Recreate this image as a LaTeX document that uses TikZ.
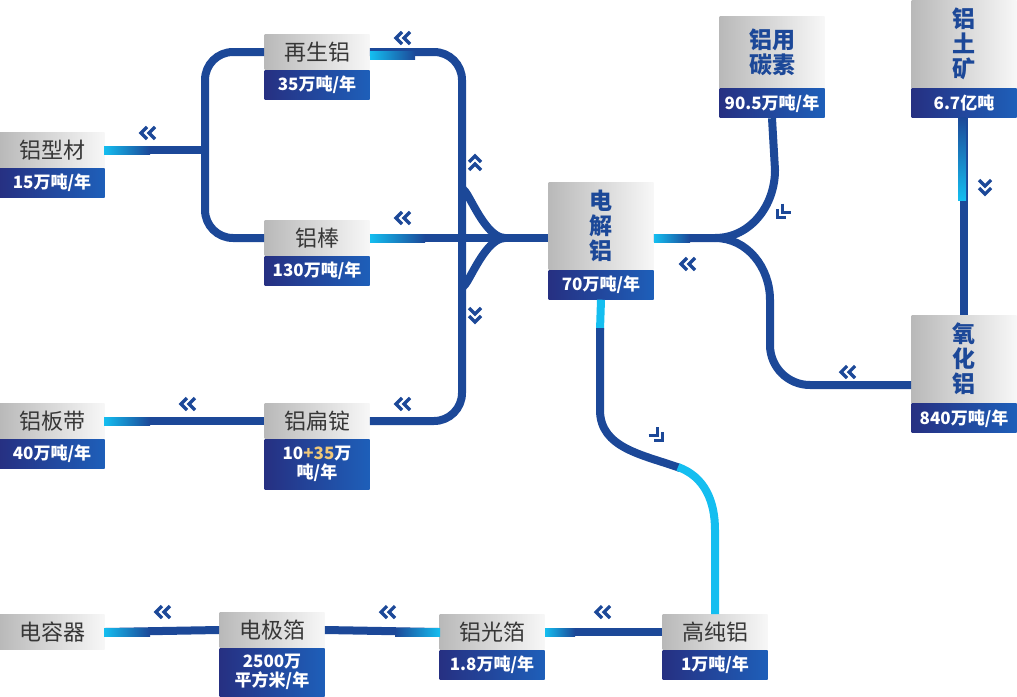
\documentclass[tikz,border=0pt]{standalone}
\usepackage{fontspec}
\newfontfamily\cjk{Noto Sans CJK SC}
\usetikzlibrary{positioning}
\definecolor{dblue}{RGB}{28,72,152}
\definecolor{cyanp}{RGB}{20,190,240}
\definecolor{navyb}{RGB}{38,48,130}
\definecolor{midb}{RGB}{30,95,185}
\definecolor{greyt}{RGB}{55,55,55}
\definecolor{gold}{RGB}{240,200,120}

\begin{document}
\begin{tikzpicture}
  [x=0.5pt,y=-0.5pt,
   gbox/.style={shading=axis,left color=gray!55,right color=gray!6,minimum width=52.5pt,
     minimum height=17.5pt,inner sep=0pt,text=greyt,font=\cjk\fontsize{11}{12}\selectfont},
   tbox/.style={gbox,text=dblue,align=center,font=\cjk\bfseries\fontsize{11.5}{12.5}\selectfont},
   vbox/.style={shading=axis,left color=navyb,right color=midb,minimum width=52.5pt,
     minimum height=14.5pt,inner sep=0pt,text=white,align=center,
     font=\cjk\bfseries\fontsize{8.5}{9.5}\selectfont},
   pipe/.style={draw=dblue,line width=4pt},
   pipec/.style={draw=cyanp,line width=4pt},
   chev/.pic={\draw[dblue,line width=1.6pt] (2,-6)--(-4,0)--(2,6) (10,-6)--(4,0)--(10,6);}]
  \useasboundingbox (0,0) rectangle (1017,696);

  % nodes
  \node[gbox] (xc) at (52,150) {铝型材};
  \node[vbox,below=0pt of xc] (xc-v) {15万吨/年};
  \node[gbox] (zs) at (317,52) {再生铝};
  \node[vbox,below=0pt of zs] (zs-v) {35万吨/年};
  \node[gbox] (bang) at (317,238) {铝棒};
  \node[vbox,below=0pt of bang] (bang-v) {130万吨/年};
  \node[gbox] (bd) at (52,421) {铝板带};
  \node[vbox,below=0pt of bd] (bd-v) {40万吨/年};
  \node[gbox] (bdd) at (317,421) {铝扁锭};
  \node[vbox,below=0pt of bdd,minimum height=25pt] (bdd-v) {10{\color{gold}+35}万\\吨/年};
  \node[tbox,minimum height=43.5pt] (djl) at (601,226) {电\\解\\铝};
  \node[vbox,below=0pt of djl] (djl-v) {70万吨/年};
  \node[tbox,minimum height=36pt] (ts) at (772,52) {铝用\\碳素};
  \node[vbox,below=0pt of ts] (ts-v) {90.5万吨/年};
  \node[tbox,minimum height=44pt] (tk) at (964,44) {铝\\土\\矿};
  \node[vbox,below=0pt of tk] (tk-v) {6.7亿吨};
  \node[tbox,minimum height=44pt] (yh) at (964,359) {氧\\化\\铝};
  \node[vbox,below=0pt of yh] (yh-v) {840万吨/年};
  \node[gbox] (gcl) at (715,632) {高纯铝};
  \node[vbox,below=0pt of gcl] (gcl-v) {1万吨/年};
  \node[gbox] (ggb) at (492,632) {铝光箔};
  \node[vbox,below=0pt of ggb] (ggb-v) {1.8万吨/年};
  \node[gbox] (djb) at (272,630) {电极箔};
  \node[vbox,below=0pt of djb,minimum height=24pt] (djb-v) {2500万\\平方米/年};
  \node[gbox] (drq) at (52,632) {电容器};

  \coordinate (forkL) at (205,150);
  \coordinate (hub) at (462,238);
  \coordinate (forkR) at (715,238);

  % pipes
  \begin{scope}[on background layer/.try]
  \draw[pipe] (xc.east) -- (forkL);
  \draw[pipe,rounded corners=14pt] (zs.west) -| (forkL) |- (bang.west);
  \draw[pipe,rounded corners=14pt] (zs.east) -| (hub) |- (bdd.east);
  \draw[pipe] (462,195) to[out=90,in=180] (505,238);
  \draw[pipe] (462,281) to[out=-90,in=180] (505,238);
  \draw[pipe] (bang.east) -- (djl.west |- bang.west);
  \draw[pipe] (bd.east) -- (bdd.west);
  \draw[pipe] (djl.east |- forkR) -- (forkR) to[out=0,in=-90] (775,170) -- (ts-v.south);
  \draw[pipe] (forkR) to[out=0,in=90] (770,300) -- (770,345)
    to[out=-90,in=180] (810,385) -- ([yshift=-13pt]yh.west);
  \draw[pipe] (tk-v.south) -- (yh.north);
  \draw[pipec] (djl-v.south) -- (600,330);
  \draw[pipe] (600,328) -- (600,410) to[out=-90,in=160] (680,468);
  \draw[pipec] (678,467) to[out=-20,in=90] (715,530) -- (gcl.north);
  \draw[pipe] (gcl.west) -- (ggb.east);
  \draw[pipe] (ggb.west) -- (djb.east);
  \draw[pipe] (djb.west) -- (drq.east);
  \end{scope}

  % cyan fades
  \foreach \xa/\xb/\yy in {104/150/150, 370/415/55, 370/425/238, 104/150/421, 654/690/238,
      104/150/632, 545/575/632}
    \shade[left color=cyanp,right color=dblue] (\xa,\yy-4) rectangle (\xb,\yy+4);
  \shade[left color=dblue,right color=cyanp] (395,628) rectangle (440,636);
  \shade[top color=dblue,bottom color=cyanp] (958,117) rectangle (966,200);

  % chevrons
  \foreach \px/\py/\ang in {145/133/0, 400/38/0, 400/218/0, 185/404/0, 400/404/0, 685/264/0,
      845/372/0, 600/612/0, 385/612/0, 160/612/0, 475/160/-90, 475/318/90, 985/190/90,
      780/215/45, 660/438/135}
    \pic[rotate=\ang] at (\px,\py) {chev};
\end{tikzpicture}
\end{document}
